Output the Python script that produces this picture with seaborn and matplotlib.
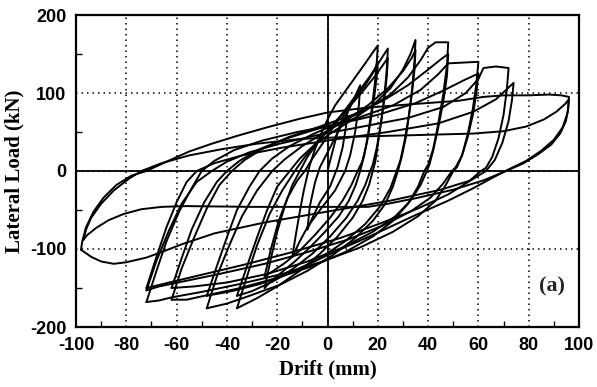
import matplotlib
matplotlib.use("Agg")
import matplotlib.pyplot as plt
import seaborn as sns
import pandas as pd
from matplotlib.ticker import MultipleLocator

# ---- data (drift mm, lateral load kN) ----
cycle_01 = [(0, 0), (2, 25), (4, 50), (6, 68), (8, 80), (7.5, 60), (6, 30), (4, 5),
            (1, -20), (-3, -40), (-6, -60), (-8, -75)]
cycle_02 = [(-8, -75), (-7, -45), (-5, -15), (-3, 5), (1, 30), (5, 55), (9, 82), (13, 110),
            (12.5, 85), (11, 50), (9, 20), (7, 0), (3, -25), (-3, -50), (-8, -72),
            (-11, -90), (-14, -110)]
cycle_03 = [(-14, -110), (-12.5, -80), (-11, -52), (-9.5, -26), (-8, -5), (-7, 8), (-5, 28),
            (-2.5, 48), (0, 66), (3, 84), (7, 102), (11, 120), (15, 138), (18, 152),
            (20, 161), (19.6, 140), (18.8, 112), (17.6, 80), (16.2, 48), (14.6, 20),
            (13, 0), (11.2, -18), (8.5, -38), (4.5, -58), (-1, -78), (-7, -98),
            (-13, -116), (-19, -132), (-23, -143), (-25, -150)]
cycle_03b = [(-25, -150), (-22.5, -112), (-20, -78), (-17, -45), (-14, -18), (-11, 0),
             (-8, 18), (-4, 36), (0, 52), (5, 70), (10, 90), (15, 110), (18.5, 128),
             (20, 140), (19.6, 122), (18.6, 95), (17.2, 65), (15.6, 35), (13.8, 12),
             (12, 0), (9.5, -18), (6, -38), (1, -60), (-5, -82), (-11, -102), (-17, -118),
             (-22, -129), (-25, -135)]
cycle_04 = [(-25, -135), (-22.5, -100), (-19.5, -65), (-16, -35), (-12, -12), (-9, 0),
            (-6, 16), (-2, 35), (2, 55), (7, 78), (12, 100), (17, 122), (21, 142), (24, 157),
            (23.6, 132), (22.8, 102), (21.6, 70), (20.2, 38), (19, 12), (18, 0),
            (16.5, -18), (14, -38), (10, -60), (4, -84), (-3, -106), (-11, -128),
            (-20, -148), (-28, -163), (-36, -176)]
cycle_04b = [(-36, -176), (-32, -135), (-28, -95), (-23, -55), (-18, -25), (-13, 0),
             (-9, 18), (-4, 38), (2, 58), (8, 80), (14, 102), (19, 122), (22.5, 138),
             (24, 145), (23.6, 122), (22.6, 92), (21.2, 60), (19.6, 30), (18, 8), (17, 0),
             (15, -18), (12, -38), (7.5, -60), (1, -84), (-6, -106), (-14, -126),
             (-22, -142), (-30, -154), (-36, -160)]
cycle_05 = [(-36, -160), (-32, -122), (-28, -85), (-24, -50), (-20, -20), (-15, 0),
            (-11, 16), (-5, 34), (2, 50), (10, 66), (18, 84), (25, 106), (30, 130),
            (33, 150), (35, 168), (34.6, 142), (33.8, 110), (32.6, 76), (31.2, 44),
            (29.5, 18), (28, 0), (26, -20), (23, -42), (18, -64), (11, -86), (2, -108),
            (-8, -128), (-19, -146), (-31, -160), (-40, -170), (-48, -176)]
cycle_05b = [(-48, -176), (-44, -135), (-39, -95), (-34, -58), (-28, -25), (-22, 0),
             (-17, 15), (-10, 32), (-2, 48), (7, 64), (16, 84), (24, 106), (30, 128),
             (33.5, 145), (35, 155), (34.6, 130), (33.6, 100), (32.2, 68), (30.6, 38),
             (29, 14), (27.5, 0), (25, -22), (21, -45), (15, -68), (7, -90), (-3, -112),
             (-14, -130), (-27, -145), (-38, -154), (-48, -160)]
cycle_06 = [(-48, -160), (-44, -122), (-40, -85), (-36, -50), (-31, -20), (-27, 0),
            (-22, 16), (-15, 32), (-6, 47), (4, 61), (15, 78), (25, 98), (32, 120),
            (37, 142), (40, 158), (43, 165), (48, 165), (47.5, 135), (46, 98), (44, 60),
            (42, 28), (40, 8), (38.5, 0), (36, -20), (32, -42), (26, -64), (18, -84),
            (7, -104), (-6, -122), (-21, -138), (-36, -151), (-49, -160), (-56, -165),
            (-62, -165)]
cycle_06b = [(-62, -165), (-58, -125), (-53, -85), (-48, -48), (-43, -18), (-38, 0),
             (-33, 14), (-25, 30), (-15, 44), (-3, 57), (10, 72), (22, 90), (32, 110),
             (40, 130), (45, 143), (48, 150), (47.5, 122), (46, 88), (44, 55), (42, 26),
             (40.5, 8), (39.5, 0), (37, -18), (33, -38), (27, -58), (18, -78), (6, -98),
             (-8, -116), (-24, -132), (-40, -143), (-53, -148), (-62, -150)]
cycle_07 = [(-62, -150), (-58, -112), (-54, -75), (-49, -40), (-44, -14), (-40, 0),
            (-35, 13), (-27, 28), (-16, 42), (-3, 55), (12, 68), (26, 84), (37, 104),
            (44, 124), (48, 138), (54, 139), (60, 140), (59.2, 112), (57.8, 80),
            (55.8, 48), (53.5, 20), (51.5, 5), (50, 0), (47, -18), (43, -38), (36, -58),
            (26, -78), (13, -98), (-2, -116), (-18, -132), (-35, -145), (-50, -155),
            (-62, -162), (-67, -166), (-72, -168)]
cycle_07b = [(-72, -168), (-68, -128), (-64, -90), (-59, -52), (-54, -22), (-50, 0),
             (-45, 13), (-37, 27), (-26, 39), (-12, 50), (4, 60), (20, 72), (35, 87),
             (46, 103), (54, 116), (60, 125), (59.2, 100), (57.8, 72), (55.8, 44),
             (53.5, 20), (51, 5), (49.5, 0), (46, -16), (41, -34), (33, -52), (22, -70),
             (8, -88), (-8, -104), (-25, -119), (-43, -132), (-58, -142), (-67, -148),
             (-72, -153)]
cycle_08 = [(-72, -153), (-68, -115), (-63, -76), (-58, -42), (-52, -14), (-46, 0),
            (-40, 12), (-31, 24), (-19, 35), (-4, 46), (14, 57), (32, 68), (46, 82),
            (55, 100), (60, 118), (62, 132), (67, 134), (72, 132), (71.3, 104), (70, 72),
            (68, 42), (65.5, 18), (63, 4), (61, 0), (56, -14), (48, -30), (36, -48),
            (22, -66), (5, -86), (-14, -104), (-33, -120), (-50, -133), (-63, -143),
            (-72, -150)]
cycle_09 = [(-72, -150), (-68, -110), (-64, -72), (-60, -40), (-56, -14), (-52, 0),
            (-45, 10), (-34, 20), (-18, 30), (2, 40), (24, 50), (44, 61), (58, 76),
            (67, 92), (71, 104), (74, 113), (73.4, 92), (72, 64), (69.5, 36), (66.5, 14),
            (63, 0), (57, -12), (45, -24), (25, -38), (0, -52), (-25, -66), (-45, -80),
            (-58, -94), (-66, -104), (-72, -111), (-80, -117), (-85, -119), (-90, -116),
            (-94, -110), (-98, -101)]
cycle_10 = [(-98, -101), (-97.5, -90), (-96, -72), (-93, -52), (-89, -34), (-84, -18),
            (-78, -6), (-72, 0), (-64, 12), (-55, 25), (-46, 35), (-36, 45), (-24, 56),
            (-11, 67), (0, 75), (15, 81), (35, 86), (52, 90), (62, 95), (70, 97), (80, 97),
            (88, 98), (93, 97), (96, 95), (95.7, 80), (94.8, 64), (92.5, 48), (89, 34),
            (84, 22), (78, 10), (71, 0), (62, -12), (50, -24), (35, -35), (24, -42),
            (16, -46), (0, -46), (-30, -46), (-56, -45), (-66, -46), (-74, -49),
            (-81, -55), (-87, -63), (-92, -73), (-95.5, -82), (-97, -88)]
cycle_11 = [(-97, -88), (-96, -75), (-94, -60), (-90, -42), (-85, -25), (-79, -10),
            (-74, 0), (-66, 10), (-55, 20), (-42, 28), (-28, 35), (-11, 41), (10, 44),
            (35, 46), (58, 48), (70, 51), (79, 57), (86, 66), (91, 76), (94.5, 86),
            (96, 92), (95.5, 75), (93.5, 56), (90, 40), (85, 26), (79, 13), (72, 2),
            (66, -8), (58, -22), (48, -38), (34, -58), (18, -82), (4, -102), (-8, -120),
            (-18, -135), (-24, -145)]

cycles = [cycle_01, cycle_02, cycle_03, cycle_03b, cycle_04, cycle_04b, cycle_05,
          cycle_05b, cycle_06, cycle_06b, cycle_07, cycle_07b, cycle_08, cycle_09,
          cycle_10, cycle_11]

x_ticks = [-100, -80, -60, -40, -20, 0, 20, 40, 60, 80, 100]
y_ticks = [-200, -100, 0, 100, 200]

rows = []
for ci, cyc in enumerate(cycles):
    for k, (dx, ld) in enumerate(cyc):
        rows.append({"cycle": ci, "step": k, "drift": dx, "load": ld})
df = pd.DataFrame(rows)

# ---- figure ----
sns.set_theme(style="white")
plt.rcParams["font.family"] = ["Liberation Sans", "DejaVu Sans"]
plt.rcParams["axes.unicode_minus"] = False

fig = plt.figure(figsize=(5.97, 3.87), dpi=100)
ax = fig.add_axes([76 / 597, 1 - 327 / 387, 503 / 597, 312 / 387])

ax.set_xlim(-100, 100)
ax.set_ylim(-200, 200)

ax.set_xticks(x_ticks)
ax.set_yticks(y_ticks)
ax.xaxis.set_minor_locator(MultipleLocator(10))
ax.yaxis.set_minor_locator(MultipleLocator(50))
ax.grid(True, which="major", color="black", linestyle=(0, (1, 2.6)), linewidth=1.1)
ax.axhline(0, color="black", linewidth=1.3, zorder=2)
ax.axvline(0, color="black", linewidth=1.3, zorder=2)

sns.lineplot(data=df, x="drift", y="load", units="cycle", estimator=None, sort=False,
             color="black", linewidth=1.4, ax=ax, legend=False, zorder=3)

for s in ax.spines.values():
    s.set_visible(True)
    s.set_color("black")
    s.set_linewidth(1.6)

ax.tick_params(which="major", direction="in", length=0, pad=7, labelsize=13)
ax.tick_params(which="minor", direction="in", length=4, width=1.0, color="black")
ax.tick_params(which="minor", top=False, right=False, bottom=True, left=True)
for lab in ax.get_xticklabels() + ax.get_yticklabels():
    lab.set_fontweight("bold")
    lab.set_color("black")

ax.set_xlabel("Drift (mm)", fontsize=15, fontweight="bold",
              family=["Liberation Serif", "DejaVu Serif"], color="black")
ax.set_ylabel("Lateral Load (kN)", fontsize=15, fontweight="bold",
              family=["Liberation Serif", "DejaVu Serif"], color="black")
ax.xaxis.set_label_coords(0.5, -0.105)
ax.yaxis.set_label_coords(-0.103, 0.5)
ax.text(0.947, 0.13, "(a)", transform=ax.transAxes, ha="center", va="center",
        fontsize=16, fontweight="bold", family=["Liberation Serif", "DejaVu Serif"])

fig.savefig("out.png", dpi=100, facecolor="white")
